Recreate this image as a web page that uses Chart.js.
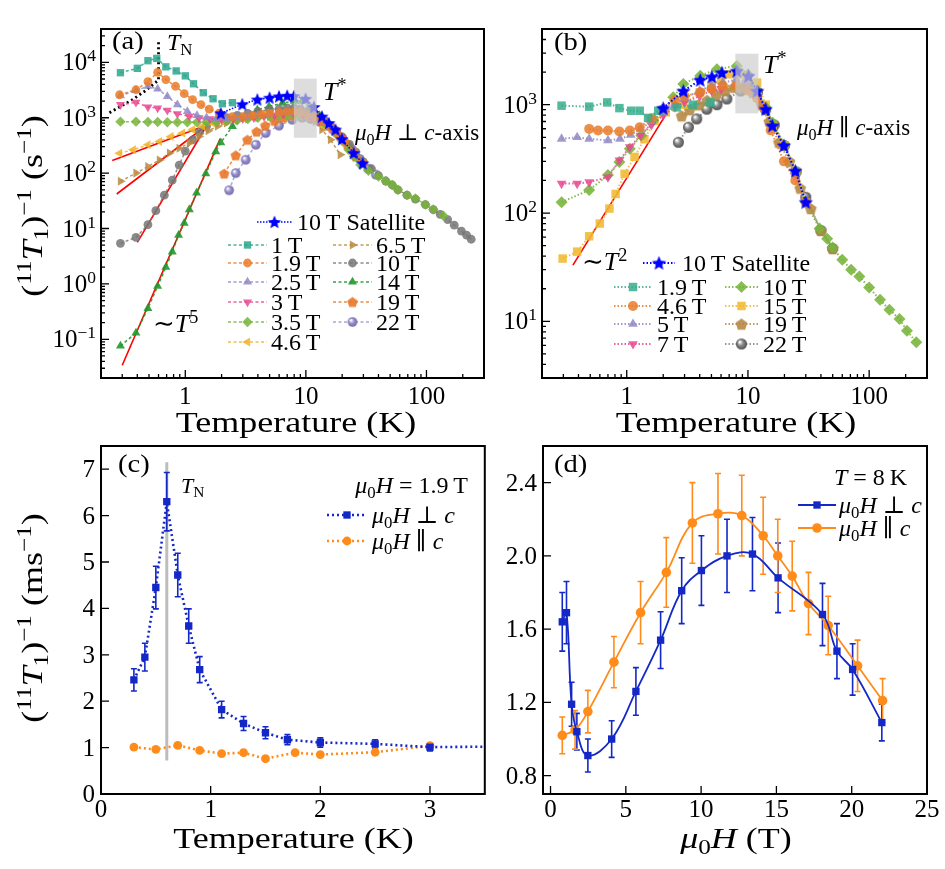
<!DOCTYPE html>
<html>
<head>
<meta charset="utf-8">
<script src="https://cdn.jsdelivr.net/npm/chart.js"></script>
<style>
  html, body { margin: 0; padding: 0; background: #fff; }
  #wrap { position: relative; width: 945px; height: 869px; }
  canvas { position: absolute; }
</style>
</head>
<body>
<div id="wrap">
  <canvas id="pa" width="490" height="440" style="left:0;top:0"></canvas>
  <canvas id="pb" width="455" height="440" style="left:490px;top:0"></canvas>
  <canvas id="pc" width="490" height="429" style="left:0;top:440px"></canvas>
  <canvas id="pd" width="455" height="429" style="left:490px;top:440px"></canvas>
</div>
<script>
// ---------- panel (a): H perp c, log-log ----------
const aSatT = [1.97, 2.97, 3.96, 5.0, 5.98, 7.0, 7.95, 9.95, 11.66, 13.6, 15.5, 17.6, 19.9, 24.9, 29.6];
const aSatR = [1200, 1750, 2130, 2300, 2430, 2500, 2450, 2200, 1560, 1050, 800, 610, 410, 230, 150];
const a1T_T = [0.29, 0.40, 0.49, 0.58, 0.69, 0.84, 1.0, 1.17, 1.41, 1.70, 2.03, 2.46];
const a1T_R = [6500, 7800, 10700, 11800, 8300, 7000, 5700, 4100, 2830, 2200, 1790, 1870];
const a19T_T = [0.285, 0.39, 0.49, 0.59, 0.69, 0.83, 0.98, 1.15, 1.35, 1.58, 1.91, 2.46, 3.0, 3.6, 4.3, 5.0, 6.0, 7.0, 8.0, 9.0, 10.5, 12, 14, 16, 18, 21, 25, 30];
const a19T_R = [2600, 3200, 4500, 6600, 4880, 3700, 2720, 2130, 1720, 1430, 1215, 1050, 1050, 1100, 1150, 1200, 1250, 1280, 1300, 1250, 1150, 1000, 850, 680, 540, 380, 240, 150];
const a25T_T = [0.29, 0.39, 0.49, 0.59, 0.71, 0.86, 1.04, 1.25, 1.5, 1.8, 2.2, 2.7, 3.3, 4.0, 5.0, 6.0, 7.0, 8.0, 9.0, 10.5, 12, 14, 17, 20, 25, 30];
const a25T_R = [2500, 3100, 3700, 3300, 2430, 1720, 1300, 1100, 1000, 950, 950, 1000, 1050, 1100, 1150, 1200, 1250, 1250, 1200, 1100, 950, 800, 600, 420, 240, 150];
const a3T_T = [0.29, 0.39, 0.49, 0.59, 0.71, 0.86, 1.08, 1.3, 1.6, 2.0, 2.5, 3.0, 3.7, 4.5, 5.5, 6.5, 8.0, 9.5, 11, 13, 16, 20, 25];
const a3T_R = [1720, 1890, 1560, 1500, 1360, 1180, 1060, 1000, 950, 930, 940, 960, 1000, 1050, 1100, 1150, 1150, 1100, 1000, 850, 650, 420, 240];
const a35T_T = [0.29, 0.39, 0.49, 0.59, 0.71, 0.86, 1.04, 1.25, 1.5, 1.8, 2.2, 2.7, 3.3, 4.0, 5.0, 6.0, 7.0, 8.0, 9.0, 10.5, 12, 14, 16, 17.6, 20, 22.6, 25, 28.3, 33, 40, 46, 52, 58, 69, 81, 98, 114, 138];
const a35T_R = [850, 850, 840, 840, 830, 830, 830, 830, 840, 850, 870, 900, 950, 1000, 1050, 1080, 1100, 1100, 1080, 1050, 950, 820, 680, 520, 380, 265, 200, 141, 110, 87, 72, 61, 50, 40, 35, 27, 22, 17];
const a46T_T = [0.285, 0.37, 0.49, 0.61, 0.76, 0.95, 1.15, 1.39, 1.68, 2.0, 2.5, 3.0, 3.6, 4.3, 5.0, 6.0, 7.0, 8.0, 9.0, 10.5, 12, 14];
const a46T_R = [228, 265, 325, 373, 460, 530, 610, 700, 800, 870, 950, 1000, 1050, 1100, 1150, 1150, 1150, 1100, 1050, 1000, 900, 700];
const a65T_T = [0.29, 0.39, 0.49, 0.61, 0.74, 0.89, 1.08, 1.3, 1.55, 1.85, 2.2, 2.7, 3.3, 4.0, 5.0, 6.0, 7.0, 8.0, 9.0, 10.5, 12, 13.6, 16, 19.3];
const a65T_R = [71, 100, 131, 173, 230, 280, 350, 460, 580, 700, 800, 900, 950, 1000, 1050, 1100, 1100, 1100, 1050, 1000, 850, 610, 400, 215];
const a10T_T = [0.29, 0.39, 0.49, 0.57, 0.67, 0.78, 0.89, 1.0, 1.15, 1.3, 1.5, 1.8, 2.2, 2.7, 3.3, 4.0, 5.0, 6.0, 7.0, 8.0, 9.0, 10.5, 12, 14, 16, 18, 20, 23, 26, 30, 35, 40, 46, 52, 58, 69, 81, 98, 114, 130, 150, 170, 195, 215, 235];
const a10T_R = [5.4, 6.9, 11.7, 21, 40, 75, 140, 250, 400, 550, 700, 850, 1000, 1100, 1200, 1300, 1400, 1450, 1500, 1500, 1450, 1350, 1150, 900, 720, 580, 450, 330, 240, 160, 120, 90, 72, 61, 50, 40, 34, 27, 22, 18, 14.5, 11.5, 9, 7.6, 6.4];
const a14T_T = [0.29, 0.39, 0.49, 0.59, 0.69, 0.78, 0.88, 0.98, 1.08, 1.24, 1.48, 1.79, 1.97, 2.46, 3.27, 3.96, 4.95, 6.4, 8.0, 9.3, 11, 13, 15, 17.6, 20, 23.4];
const a14T_R = [0.076, 0.13, 0.36, 0.91, 2.0, 3.8, 7.6, 12.5, 22, 44, 98, 245, 355, 700, 1000, 1400, 1600, 1850, 2000, 2000, 1500, 1100, 850, 550, 400, 280];
const a19Tp_T = [2.1, 2.62, 3.27, 3.9, 4.6, 5.5, 6.5, 7.7, 9.0, 10.5, 12, 14, 16.5, 19, 22, 26];
const a19Tp_R = [98, 210, 400, 560, 720, 880, 1000, 1100, 1150, 1100, 1000, 850, 650, 480, 330, 200];
const a22T_T = [2.31, 2.62, 3.17, 3.84, 4.64, 5.98, 7.7, 9.3, 11, 13, 15, 17.6, 20, 24, 28, 33, 38];
const a22T_R = [49, 100, 174, 325, 530, 720, 920, 1000, 950, 850, 720, 560, 420, 270, 180, 120, 94];
const aTN_T = [0.235, 0.367, 0.47, 0.6, 0.6];
const aTN_R = [1230, 2140, 3100, 4800, 23000];
const aFit46_T = [0.248, 1.53], aFit46_R = [169, 747];
const aFit65_T = [0.27, 1.53], aFit65_R = [42, 747];
const aFit10_T = [0.40, 1.48], aFit10_R = [5.6, 680];
const aFit14_T = [0.30, 1.95], aFit14_R = [0.034, 420];
const aBoxT = [7.95, 12.3], aBoxR = [435, 5070];
const aXTicks = [1, 10, 100];
const aYTicks = [0.1, 1, 10, 100, 1000, 10000];

// ---------- panel (b): H parallel c, log-log ----------
const bSatT = [2.0, 2.93, 4.04, 5.04, 6.1, 8.1, 10.1, 11.9, 14, 15.9, 19.8, 24.6, 30];
const bSatR = [930, 1340, 1690, 1810, 1980, 2050, 1840, 1340, 910, 640, 420, 245, 126];
const b19T_T = [0.29, 0.49, 0.69, 0.87, 1.09, 1.28, 1.5, 1.82, 2.58, 3.5, 4.9];
const b19T_R = [980, 960, 1050, 930, 880, 880, 755, 880, 945, 1000, 1050];
const b46T_T = [0.49, 0.58, 0.70, 0.87, 1.06, 1.28, 1.6, 2.0, 2.5, 3.0, 4.04, 5.0, 6.2, 8.0, 10, 11.9, 13.4, 15.4, 19.8, 24.6, 30];
const b46T_R = [598, 577, 577, 565, 577, 620, 750, 910, 1100, 1200, 1300, 1400, 1500, 1500, 1350, 1150, 950, 580, 300, 200, 125];
const b5T_T = [0.29, 0.39, 0.49, 0.7, 0.88, 1.08, 1.3, 1.6, 2.0, 2.5, 3.0, 4.0, 5.0, 6.2, 8.0, 9.5, 11, 13];
const b5T_R = [484, 500, 484, 468, 484, 525, 600, 700, 850, 1000, 1150, 1350, 1500, 1600, 1700, 1650, 1400, 1000];
const b7T_T = [0.29, 0.39, 0.49, 0.7, 0.87, 1.06, 1.3, 1.6, 2.0, 2.5, 3.0, 4.0, 5.0, 6.0];
const b7T_R = [187, 187, 193, 214, 306, 406, 520, 650, 800, 950, 1050, 1200, 1350, 1400];
const b10T_T = [0.29, 0.49, 0.70, 0.87, 1.06, 1.32, 1.65, 2.0, 2.42, 2.93, 4.04, 5.55, 8.1, 10, 12, 14, 16, 20, 25, 30, 39, 45, 50, 60, 71, 83, 100, 123, 147, 178, 205, 245];
const b10T_R = [126, 163, 224, 296, 392, 520, 710, 900, 1170, 1550, 1850, 2130, 2280, 1900, 1350, 950, 680, 420, 240, 125, 72, 58, 48, 37, 30, 26, 20.5, 15.8, 12.8, 10.5, 8.2, 6.4];
const b15T_T = [0.296, 0.39, 0.49, 0.60, 0.72, 0.81, 0.96, 1.16, 1.4, 1.7, 2.1, 2.93, 4.0, 5.0, 6.0, 7.1, 8.5, 10, 11.9, 14, 16, 20, 25, 30];
const b15T_R = [38, 44, 61, 80, 110, 150, 230, 330, 480, 710, 850, 1000, 1300, 1500, 1700, 1910, 1900, 1750, 1600, 1000, 650, 420, 240, 125];
const b19Tp_T = [2.84, 3.3, 3.9, 4.6, 5.5, 6.5, 7.7, 9.2, 11, 13, 15, 18, 22, 27, 33, 40, 50];
const b19Tp_R = [790, 900, 1000, 1100, 1250, 1350, 1450, 1450, 1300, 1000, 700, 450, 300, 170, 110, 69, 47];
const b22T_T = [2.67, 3.23, 3.78, 4.58, 5.55, 6.7, 8.7, 10.1, 12, 14, 16.5, 20, 25, 30, 40, 50];
const b22T_R = [450, 620, 740, 910, 1000, 1130, 1340, 1550, 1300, 900, 650, 420, 240, 140, 69, 47];
const bFit_T = [0.36, 2.07], bFit_R = [33, 790];
const bBoxT = [7.87, 12.2], bBoxR = [832, 2960];
const bXTicks = [1, 10, 100];
const bYTicks = [10, 100, 1000];

// ---------- panel (c): 1.9 T, linear ----------
const cPerpT = [0.3, 0.4, 0.5, 0.6, 0.7, 0.8, 0.9, 1.1, 1.3, 1.5, 1.7, 2.0, 2.5, 3.0, 4.0];
const cPerpR = [2.46, 2.95, 4.45, 6.3, 4.72, 3.62, 2.68, 1.82, 1.52, 1.32, 1.17, 1.11, 1.08, 1.01, 1.03];
const cPerpErr = [0.24, 0.3, 0.46, 0.63, 0.47, 0.37, 0.28, 0.18, 0.15, 0.13, 0.11, 0.1, 0.09, 0.08, 0];
const cParT = [0.3, 0.5, 0.7, 0.9, 1.1, 1.3, 1.5, 1.77, 2.0, 2.5, 3.0];
const cParR = [1.01, 0.96, 1.05, 0.94, 0.87, 0.89, 0.76, 0.89, 0.85, 0.90, 1.04];
const cTN = 0.6, cTNSpan = [0.72, 7.15];
const cXTicks = [0, 1, 2, 3];
const cYTicks = [0, 1, 2, 3, 4, 5, 6, 7];

// ---------- panel (d): T = 8 K, linear ----------
const dPerpH = [0.78, 1.06, 1.40, 1.75, 2.48, 4.06, 5.67, 7.31, 8.71, 10.02, 11.72, 13.41, 15.11, 18.06, 19.02, 20.06, 22.0];
const dPerpR = [1.64, 1.69, 1.19, 1.04, 0.91, 1.00, 1.26, 1.54, 1.81, 1.92, 2.00, 2.01, 1.88, 1.68, 1.48, 1.38, 1.09];
const dPerpErr = [0.16, 0.17, 0.12, 0.1, 0.09, 0.1, 0.13, 0.155, 0.18, 0.19, 0.2, 0.2, 0.19, 0.17, 0.15, 0.14, 0.1];
const dParH = [0.78, 1.63, 2.48, 4.21, 5.98, 7.69, 9.42, 11.12, 12.7, 14.12, 15.09, 16.05, 17.13, 18.44, 20.39, 22.05];
const dParR = [1.02, 1.05, 1.15, 1.42, 1.69, 1.91, 2.18, 2.23, 2.22, 2.11, 2.00, 1.89, 1.74, 1.62, 1.40, 1.21];
const dParErr = [0.1, 0.105, 0.116, 0.14, 0.17, 0.19, 0.22, 0.22, 0.22, 0.21, 0.2, 0.19, 0.17, 0.16, 0.14, 0.12];
const dXTicks = [0, 5, 10, 15, 20, 25];
const dYTicks = [0.8, 1.2, 1.6, 2.0, 2.4];

// ---------- helpers ----------
const FONT = '"Liberation Serif", "DejaVu Serif", serif';

// segs: [text, kind] with kind r / i / sub / sup; k widens glyphs horizontally
function rich(ctx, segs, x, y, size, align, k) {
  k = k || 1;
  ctx.save();
  ctx.fillStyle = '#000';
  ctx.textBaseline = 'alphabetic';
  ctx.textAlign = 'left';
  const parts = segs.map(([t, kind]) => {
    const small = kind === 'sub' || kind === 'sup';
    const font = (kind === 'i' ? 'italic ' : '') + (small ? size * 0.7 : size) + 'px ' + FONT;
    ctx.font = font;
    const dy = kind === 'sup' ? -size * 0.36 : kind === 'sub' ? size * 0.2 : 0;
    return { t, font, dy, w: ctx.measureText(t).width };
  });
  const total = parts.reduce((s, p) => s + p.w, 0) * k;
  const x0 = align === 'center' ? x - total / 2 : align === 'right' ? x - total : x;
  ctx.translate(x0, y);
  ctx.scale(k, 1);
  let cx = 0;
  parts.forEach(p => { ctx.font = p.font; ctx.fillText(p.t, cx, p.dy); cx += p.w; });
  ctx.restore();
}

function richUp(ctx, segs, x, y, size, k) {
  ctx.save();
  ctx.translate(x, y);
  ctx.rotate(-Math.PI / 2);
  rich(ctx, segs, 0, 0, size, 'center', k);
  ctx.restore();
}

function logMinors(min, max) {
  const out = [];
  for (let e = Math.floor(Math.log10(min)); e <= Math.ceil(Math.log10(max)); e++) {
    for (let k = 2; k <= 9; k++) {
      const v = k * Math.pow(10, e);
      if (v > min * 1.001 && v < max * 0.999) out.push(v);
    }
  }
  return out;
}

function linMinors(min, max, step) {
  const out = [];
  for (let v = Math.ceil(min / step) * step; v < max; v += step) out.push(v);
  return out;
}

function frame(c, xMaj, xMin, yMaj, yMin) {
  const ctx = c.ctx, a = c.chartArea, sx = c.scales.x, sy = c.scales.y;
  ctx.save();
  ctx.strokeStyle = '#000';
  ctx.lineWidth = 1.3;
  ctx.beginPath();
  const tx = (v, len) => { const p = sx.getPixelForValue(v); ctx.moveTo(p, a.bottom); ctx.lineTo(p, a.bottom - len); };
  const ty = (v, len) => { const p = sy.getPixelForValue(v); ctx.moveTo(a.left, p); ctx.lineTo(a.left + len, p); };
  xMaj.forEach(v => tx(v, 8)); xMin.forEach(v => tx(v, 4));
  yMaj.forEach(v => ty(v, 8)); yMin.forEach(v => ty(v, 4));
  ctx.stroke();
  ctx.lineWidth = 2;
  ctx.strokeRect(a.left, a.top, a.right - a.left, a.bottom - a.top);
  ctx.restore();
}

function logYLabels(c, ticks) {
  const a = c.chartArea, sy = c.scales.y;
  ticks.forEach(v => {
    const p = sy.getPixelForValue(v);
    const e = String(Math.round(Math.log10(v))).replace('-', '\u2212');
    rich(c.ctx, [['10', 'r'], [e, 'sup']], a.left - 5, p + 8, 25, 'right');
  });
}

function yLabels(c, ticks, fmt) {
  const a = c.chartArea, sy = c.scales.y;
  ticks.forEach(v => rich(c.ctx, [[fmt(v), 'r']], a.left - 6, sy.getPixelForValue(v) + 8, 25, 'right'));
}

function xLabels(c, ticks, fmt, base) {
  const sx = c.scales.x;
  ticks.forEach(v => rich(c.ctx, [[fmt(v), 'r']], sx.getPixelForValue(v), base, 25, 'center'));
}

function shadeBox(c, xs, ys) {
  const ctx = c.ctx, sx = c.scales.x, sy = c.scales.y;
  const x1 = sx.getPixelForValue(xs[0]), x2 = sx.getPixelForValue(xs[1]);
  const y1 = sy.getPixelForValue(ys[1]), y2 = sy.getPixelForValue(ys[0]);
  ctx.save();
  ctx.fillStyle = 'rgba(205,205,205,0.68)';
  ctx.fillRect(x1, y1, x2 - x1, y2 - y1);
  ctx.restore();
}

function errorBars(c) {
  const ctx = c.ctx;
  c.data.datasets.forEach((ds, i) => {
    if (!ds.errs) return;
    const meta = c.getDatasetMeta(i), sy = c.scales.y;
    ctx.save();
    ctx.strokeStyle = ds.borderColor;
    ctx.lineWidth = 1.6;
    ctx.beginPath();
    meta.data.forEach((pt, j) => {
      const e = ds.errs[j];
      if (!e) return;
      const v = ds.data[j].y;
      const yt = sy.getPixelForValue(v + e), yb = sy.getPixelForValue(v - e);
      ctx.moveTo(pt.x, yt); ctx.lineTo(pt.x, yb);
      ctx.moveTo(pt.x - 3, yt); ctx.lineTo(pt.x + 3, yt);
      ctx.moveTo(pt.x - 3, yb); ctx.lineTo(pt.x + 3, yb);
    });
    ctx.stroke();
    ctx.restore();
  });
}

function legendItem(ctx, ds, x1, x2, y, segs, tx, size) {
  ctx.save();
  ctx.strokeStyle = ds.borderColor;
  ctx.lineWidth = ds.borderWidth;
  ctx.setLineDash(ds.borderDash || []);
  ctx.beginPath(); ctx.moveTo(x1, y); ctx.lineTo(x2, y); ctx.stroke();
  ctx.setLineDash([]);
  ctx.fillStyle = ds.pointBackgroundColor;
  ctx.strokeStyle = ds.pointBorderColor;
  ctx.lineWidth = ds.pointBorderWidth || 0;
  Chart.helpers.drawPoint(ctx, {
    pointStyle: ds.pointStyle, rotation: ds.pointRotation || 0,
    radius: ds.pointRadius, borderWidth: ds.pointBorderWidth || 0
  }, (x1 + x2) / 2, y);
  ctx.restore();
  rich(ctx, segs, tx, y + size * 0.33, size, 'left');
}

// custom marker images
function markImg(r, draw) {
  const s = Math.ceil(r * 2 + 4);
  const cv = document.createElement('canvas');
  cv.width = cv.height = s;
  const g = cv.getContext('2d');
  g.translate(s / 2, s / 2);
  draw(g);
  return cv;
}
function starImg(color, r) {
  return markImg(r, g => {
    g.beginPath();
    for (let i = 0; i < 10; i++) {
      const rr = i % 2 ? r * 0.45 : r, an = -Math.PI / 2 + i * Math.PI / 5;
      g.lineTo(rr * Math.cos(an), rr * Math.sin(an) + r * 0.08);
    }
    g.closePath(); g.fillStyle = color; g.fill();
  });
}
function pentaImg(color, r) {
  return markImg(r, g => {
    g.beginPath();
    for (let i = 0; i < 5; i++) {
      const an = -Math.PI / 2 + i * 2 * Math.PI / 5;
      g.lineTo(r * Math.cos(an), r * Math.sin(an) + r * 0.1);
    }
    g.closePath(); g.fillStyle = color; g.fill();
  });
}
function ballImg(color, dark, r) {
  return markImg(r, g => {
    const grd = g.createRadialGradient(-r * 0.35, -r * 0.4, r * 0.1, 0, 0, r);
    grd.addColorStop(0, '#ffffff'); grd.addColorStop(0.45, color); grd.addColorStop(1, dark);
    g.beginPath(); g.arc(0, 0, r, 0, Math.PI * 2); g.fillStyle = grd; g.fill();
  });
}

function pts(xs, ys) { return xs.map((x, i) => ({ x, y: ys[i] })); }

function series(label, xs, ys, color, fill, style, r, extra) {
  return Object.assign({
    label, data: pts(xs, ys), showLine: true,
    borderColor: color, borderWidth: 1.5, borderDash: [3, 2.5],
    pointStyle: style, pointRadius: r, pointHoverRadius: r,
    pointBackgroundColor: fill, pointBorderColor: fill, pointBorderWidth: 0
  }, extra || {});
}

function fitLine(xs, ys) {
  return { data: pts(xs, ys), showLine: true, borderColor: '#ff0000', borderWidth: 1.6, pointRadius: 0 };
}

function makeChart(id, datasets, xs, ys, padding, deco) {
  return new Chart(document.getElementById(id), {
    type: 'scatter',
    data: { datasets },
    options: {
      responsive: false, animation: false, devicePixelRatio: 1, events: [],
      layout: { padding },
      plugins: { legend: { display: false }, tooltip: { enabled: false } },
      scales: { x: Object.assign({ display: false }, xs), y: Object.assign({ display: false }, ys) }
    },
    plugins: [deco]
  });
}

const rateTitle = unit => [['(', 'r'], ['11', 'sup'], ['T', 'i'], ['1', 'sub'], [')', 'r'], ['\u22121', 'sup'], [' (' + unit, 'r'], ['\u22121', 'sup'], [')', 'r']];
const TS = 30, TK = 1.2; // axis title size and widening

// ---------- panel (a) ----------
const aDs = [
  series('10 T Satellite', aSatT, aSatR, '#0000ff', '#0000ff', starImg('#0000ff', 7), 6, { borderDash: [1.5, 1.5] }),
  series('1 T', a1T_T, a1T_R, 'rgba(44,165,141,0.85)', 'rgba(44,165,141,0.85)', 'rect', 5.2),
  series('1.9 T', a19T_T, a19T_R, 'rgba(232,123,42,0.85)', 'rgba(232,123,42,0.85)', 'circle', 4.4),
  series('2.5 T', a25T_T, a25T_R, 'rgba(143,136,196,0.85)', 'rgba(143,136,196,0.85)', 'triangle', 5.2),
  series('3 T', a3T_T, a3T_R, 'rgba(232,72,143,0.85)', 'rgba(232,72,143,0.85)', 'triangle', 5.2, { pointRotation: 180 }),
  series('3.5 T', a35T_T, a35T_R, 'rgba(120,180,58,0.85)', 'rgba(120,180,58,0.85)', 'rectRot', 5.2),
  series('4.6 T', a46T_T, a46T_R, 'rgba(240,180,40,0.85)', 'rgba(240,180,40,0.85)', 'triangle', 5.2, { pointRotation: -90 }),
  series('6.5 T', a65T_T, a65T_R, 'rgba(185,138,62,0.85)', 'rgba(185,138,62,0.85)', 'triangle', 5.2, { pointRotation: 90 }),
  series('10 T', a10T_T, a10T_R, 'rgba(118,118,118,0.85)', 'rgba(118,118,118,0.85)', 'circle', 4.4),
  series('14 T', a14T_T, a14T_R, 'rgba(34,153,46,0.9)', 'rgba(34,153,46,0.9)', 'triangle', 5.2),
  series('19 T', a19Tp_T, a19Tp_R, 'rgba(232,120,42,0.85)', 'rgba(232,120,42,0.85)', pentaImg('rgba(232,120,42,0.9)', 5.5), 5),
  series('22 T', a22T_T, a22T_R, 'rgba(156,149,207,0.85)', 'rgba(156,149,207,0.85)', ballImg('#9c95cf', '#6e67a8', 4.8), 5),
  { data: pts(aTN_T, aTN_R), showLine: true, borderColor: '#000', borderWidth: 2.8, borderDash: [2, 3], pointRadius: 0 },
  fitLine(aFit46_T, aFit46_R), fitLine(aFit65_T, aFit65_R), fitLine(aFit10_T, aFit10_R), fitLine(aFit14_T, aFit14_R)
];

makeChart('pa', aDs,
  { type: 'logarithmic', min: 0.2, max: 300 },
  { type: 'logarithmic', min: 0.02, max: 40000 },
  { left: 101, top: 29, right: 4, bottom: 62 },
  {
    id: 'decoA',
    afterDatasetsDraw(c) { shadeBox(c, aBoxT, aBoxR); },
    afterDraw(c) {
      const ctx = c.ctx, ds = c.data.datasets;
      frame(c, aXTicks, logMinors(0.2, 300), aYTicks, logMinors(0.02, 40000));
      logYLabels(c, aYTicks);
      xLabels(c, aXTicks, v => String(v), 404);
      rich(ctx, [['Temperature (K)', 'r']], 296, 432, TS, 'center', TK);
      richUp(ctx, rateTitle('s'), 42, 206, TS, TK);
      rich(ctx, [['(a)', 'r']], 112, 49, 26, 'left', 1.1);
      rich(ctx, [['T', 'i'], ['N', 'sub']], 167, 50, 24, 'left');
      rich(ctx, [['T', 'i'], ['*', 'sup']], 323, 100, 26, 'left');
      rich(ctx, [['\u03bc', 'i'], ['0', 'sub'], ['H', 'i'], [' \u22a5 ', 'r'], ['c', 'i'], ['-axis', 'r']], 355, 140, 23, 'left');
      rich(ctx, [['\u223c', 'r'], ['T', 'i'], ['5', 'sup']], 153, 332, 26, 'left');
      legendItem(ctx, ds[0], 257, 292, 222, [['10\u2009T Satellite', 'r']], 297, 24);
      const rows = [245, 263, 282, 302, 322, 342];
      ['1', '1.9', '2.5', '3', '3.5', '4.6'].forEach((t, i) =>
        legendItem(ctx, ds[1 + i], 228, 267, rows[i], [[t + '\u2009T', 'r']], 271, 24));
      ['6.5', '10', '14', '19', '22'].forEach((t, i) =>
        legendItem(ctx, ds[7 + i], 333, 372, rows[i], [[t + '\u2009T', 'r']], 376, 24));
    }
  });

// ---------- panel (b) ----------
const dot = { borderDash: [1.5, 2], borderWidth: 2 };
const bDs = [
  series('10 T Satellite', bSatT, bSatR, '#0000ff', '#0000ff', starImg('#0000ff', 7.5), 6, dot),
  series('1.9 T', b19T_T, b19T_R, 'rgba(54,173,140,0.85)', 'rgba(54,173,140,0.85)', 'rect', 6, dot),
  series('4.6 T', b46T_T, b46T_R, 'rgba(232,123,42,0.85)', 'rgba(232,123,42,0.85)', 'circle', 5, dot),
  series('5 T', b5T_T, b5T_R, 'rgba(143,136,196,0.85)', 'rgba(143,136,196,0.85)', 'triangle', 5.6, dot),
  series('7 T', b7T_T, b7T_R, 'rgba(232,72,143,0.85)', 'rgba(232,72,143,0.85)', 'triangle', 5.6, Object.assign({ pointRotation: 180 }, dot)),
  series('10 T', b10T_T, b10T_R, 'rgba(120,180,58,0.88)', 'rgba(120,180,58,0.88)', 'rectRot', 6, dot),
  series('15 T', b15T_T, b15T_R, 'rgba(240,185,50,0.88)', 'rgba(240,185,50,0.88)', 'rect', 6, dot),
  series('19 T', b19Tp_T, b19Tp_R, 'rgba(181,138,69,0.85)', 'rgba(181,138,69,0.85)', pentaImg('rgba(181,138,69,0.9)', 6.2), 5.5, dot),
  series('22 T', b22T_T, b22T_R, 'rgba(130,130,130,0.85)', 'rgba(130,130,130,0.85)', ballImg('#8c8c8c', '#4f4f4f', 5.5), 5.5, dot),
  fitLine(bFit_T, bFit_R)
];

makeChart('pb', bDs,
  { type: 'logarithmic', min: 0.2, max: 300 },
  { type: 'logarithmic', min: 3, max: 5000 },
  { left: 52, top: 29, right: 18, bottom: 62 },
  {
    id: 'decoB',
    afterDatasetsDraw(c) { shadeBox(c, bBoxT, bBoxR); },
    afterDraw(c) {
      const ctx = c.ctx, ds = c.data.datasets;
      frame(c, bXTicks, logMinors(0.2, 300), bYTicks, logMinors(3, 5000));
      logYLabels(c, bYTicks);
      xLabels(c, bXTicks, v => String(v), 404);
      rich(ctx, [['Temperature (K)', 'r']], 246, 432, TS, 'center', TK);
      rich(ctx, [['(b)', 'r']], 64, 50, 26, 'left', 1.1);
      rich(ctx, [['T', 'i'], ['*', 'sup']], 273, 73, 26, 'left');
      rich(ctx, [['\u03bc', 'i'], ['0', 'sub'], ['H', 'i'], [' \u2225 ', 'r'], ['c', 'i'], ['-axis', 'r']], 307, 135, 23, 'left');
      rich(ctx, [['\u223c', 'r'], ['T', 'i'], ['2', 'sup']], 92, 270, 26, 'left');
      legendItem(ctx, ds[0], 153, 185, 263, [['10\u2009T Satellite', 'r']], 192, 24);
      const rows = [287, 306, 324, 344];
      ['1.9', '4.6', '5', '7'].forEach((t, i) =>
        legendItem(ctx, ds[1 + i], 124, 162, rows[i], [[t + '\u2009T', 'r']], 167, 24));
      ['10', '15', '19', '22'].forEach((t, i) =>
        legendItem(ctx, ds[5 + i], 235, 268, rows[i], [[t + '\u2009T', 'r']], 273, 24));
    }
  });

// ---------- panel (c) ----------
const blue = '#1428c8', orange = '#ff8c1a';
const cDs = [
  series('perp', cPerpT, cPerpR, blue, blue, 'rect', 5.2, { borderDash: [2, 3], borderWidth: 2.6, errs: cPerpErr }),
  series('par', cParT, cParR, orange, orange, 'circle', 4.4, { borderDash: [2, 3], borderWidth: 2.6 })
];

makeChart('pc', cDs,
  { type: 'linear', min: 0, max: 3.5 },
  { type: 'linear', min: 0, max: 7.5 },
  { left: 101, top: 6, right: 4, bottom: 75 },
  {
    id: 'decoC',
    beforeDatasetsDraw(c) {
      const ctx = c.ctx, sx = c.scales.x, sy = c.scales.y;
      const x = sx.getPixelForValue(cTN);
      ctx.save();
      ctx.strokeStyle = '#bdbdbd'; ctx.lineWidth = 3;
      ctx.beginPath(); ctx.moveTo(x, sy.getPixelForValue(cTNSpan[0])); ctx.lineTo(x, sy.getPixelForValue(cTNSpan[1])); ctx.stroke();
      ctx.restore();
      errorBars(c);
    },
    afterDraw(c) {
      const ctx = c.ctx, ds = c.data.datasets;
      frame(c, cXTicks, linMinors(0.5, 3.5, 1), cYTicks, linMinors(0.5, 7.5, 1));
      yLabels(c, cYTicks, v => String(v));
      xLabels(c, cXTicks, v => String(v), 377);
      rich(ctx, [['Temperature (K)', 'r']], 293.5, 408, TS, 'center', TK);
      richUp(ctx, rateTitle('ms'), 42, 178, TS, TK);
      rich(ctx, [['(c)', 'r']], 118, 32, 26, 'left', 1.1);
      rich(ctx, [['T', 'i'], ['N', 'sub']], 181, 53, 22, 'left');
      rich(ctx, [['\u03bc', 'i'], ['0', 'sub'], ['H', 'i'], [' = 1.9\u2009T', 'r']], 468, 53, 24, 'right');
      legendItem(ctx, ds[0], 327, 367, 75, [['\u03bc', 'i'], ['0', 'sub'], ['H', 'i'], [' \u22a5 ', 'r'], ['c', 'i']], 372, 24);
      legendItem(ctx, ds[1], 327, 367, 101, [['\u03bc', 'i'], ['0', 'sub'], ['H', 'i'], [' \u2225 ', 'r'], ['c', 'i']], 372, 24);
    }
  });

// ---------- panel (d) ----------
const dDs = [
  series('perp', dPerpH, dPerpR, blue, blue, 'rect', 5.2, { borderDash: [], borderWidth: 1.8, tension: 0.4, errs: dPerpErr }),
  series('par', dParH, dParR, orange, orange, 'circle', 4.8, { borderDash: [], borderWidth: 1.8, tension: 0.4, errs: dParErr })
];

makeChart('pd', dDs,
  { type: 'linear', min: -0.5, max: 25 },
  { type: 'linear', min: 0.7, max: 2.6 },
  { left: 53, top: 6, right: 18, bottom: 75 },
  {
    id: 'decoD',
    beforeDatasetsDraw(c) { errorBars(c); },
    afterDraw(c) {
      const ctx = c.ctx, ds = c.data.datasets;
      frame(c, dXTicks, linMinors(2.5, 25, 5), dYTicks, linMinors(1.0, 2.6, 0.4));
      yLabels(c, dYTicks, v => v.toFixed(1));
      xLabels(c, dXTicks, v => String(v), 377);
      rich(ctx, [['\u03bc', 'i'], ['0', 'sub'], ['H', 'i'], [' (T)', 'r']], 246, 408, TS, 'center', TK);
      rich(ctx, [['(d)', 'r']], 64, 32, 26, 'left', 1.1);
      rich(ctx, [['T', 'i'], [' = 8\u2009K', 'r']], 417, 45, 24, 'right');
      legendItem(ctx, ds[0], 308, 346, 65, [['\u03bc', 'i'], ['0', 'sub'], ['H', 'i'], [' \u22a5 ', 'r'], ['c', 'i']], 349, 24);
      legendItem(ctx, ds[1], 308, 346, 88, [['\u03bc', 'i'], ['0', 'sub'], ['H', 'i'], [' \u2225 ', 'r'], ['c', 'i']], 349, 24);
    }
  });
</script>
</body>
</html>
